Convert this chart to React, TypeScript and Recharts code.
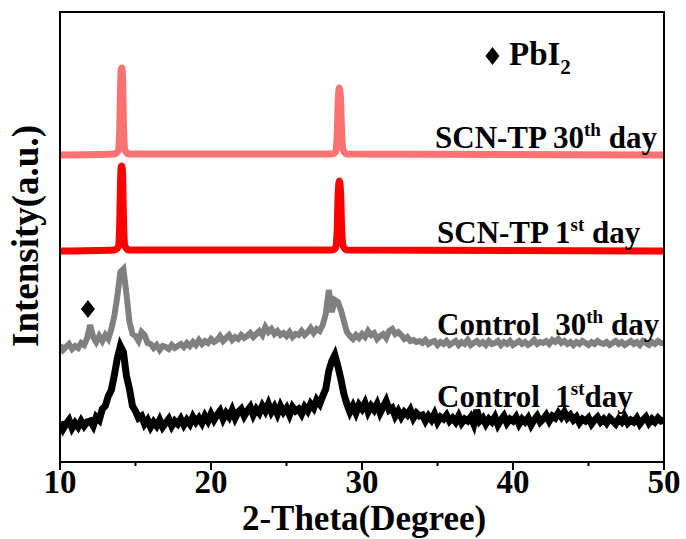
import { LineChart, Line, XAxis, YAxis, ReferenceDot } from "recharts";

// 2-theta grid for the noisy control scans (0.2 deg step)
const twoTheta = Array.from({ length: 201 }, (_, i) => 10 + i * 0.2);

const control30th = [
  117, 112, 115, 118, 113, 116, 114, 119, 117, 124,
  137, 125, 120, 126, 121, 127, 123, 133, 146, 166,
  190, 193, 168, 140, 128, 126, 121, 130, 127, 119,
  118, 114, 117, 112, 116, 115, 113, 117, 114, 116,
  118, 115, 119, 116, 120, 117, 122, 118, 121, 119,
  123, 120, 122, 126, 121, 124, 127, 122, 125, 123,
  127, 124, 126, 129, 125, 128, 131, 127, 135, 130,
  133, 128, 131, 127, 129, 126, 130, 125, 128, 127,
  131, 127, 130, 134, 129, 133, 131, 137, 148, 172,
  150, 162, 160, 152, 141, 130, 126, 123, 127, 124,
  128, 125, 131, 127, 129, 123, 126, 128, 124, 131,
  133, 128, 130, 127, 123, 125, 121, 122, 120, 121,
  119, 122, 118, 120, 121, 117, 120, 118, 121, 117,
  119, 121, 117, 120, 118, 122, 117, 119, 121, 118,
  120, 117, 121, 118, 119, 121, 117, 120, 118, 121,
  117, 119, 121, 118, 120, 117, 119, 122, 118, 120,
  119, 121, 118, 122, 120, 123, 119, 121, 118, 120,
  117, 120, 118, 121, 119, 117, 120, 118, 121, 119,
  118, 120, 117, 119, 121, 118, 120, 117, 119, 121,
  118, 120, 117, 121, 119, 117, 120, 118, 121, 119,
  119,
];

const control1st = [
  40, 33, 38, 42, 34, 39, 35, 41, 36, 40,
  41, 36, 45, 42, 53, 56, 66, 72, 87, 104,
  116, 110, 86, 73, 56, 51, 44, 46, 38, 42,
  35, 40, 36, 42, 35, 39, 43, 36, 41, 38,
  43, 37, 42, 38, 45, 40, 44, 39, 46, 41,
  48, 42, 47, 51, 43, 49, 45, 52, 44, 50,
  53, 46, 51, 55, 47, 53, 49, 56, 51, 58,
  50, 55, 48, 56, 50, 54, 47, 55, 51, 53,
  48, 55, 51, 58, 54, 62, 58, 66, 73, 91,
  101, 107, 96, 83, 68, 58, 50, 56, 49, 57,
  53, 59, 50, 56, 52, 58, 49, 55, 61, 52,
  54, 46, 51, 45, 50, 47, 52, 44, 49, 46,
  47, 41, 46, 42, 48, 40, 45, 43, 47, 41,
  44, 40, 46, 39, 43, 41, 45, 38, 52, 41,
  44, 38, 43, 40, 45, 37, 42, 46, 39, 43,
  41, 45, 38, 43, 40, 44, 37, 42, 46, 40,
  43, 47, 41, 46, 44, 49, 45, 50, 44, 47,
  42, 45, 39, 43, 41, 44, 38, 42, 45, 40,
  43, 39, 44, 41, 38, 43, 40, 45, 39, 42,
  40, 44, 38, 42, 45, 39, 43, 40, 44, 41,
  42,
];

// SCN-TP scans: flat baseline with two sharp reflections
const scnAngles = [10, 13.6, 13.85, 13.95, 14.0, 14.05, 14.1, 14.15, 14.2, 14.3, 14.55, 28.0, 28.25, 28.35, 28.42, 28.5, 28.58, 28.65, 28.75, 29.0, 50];
const scn30th = [307, 308, 311, 330, 370, 392, 394, 380, 340, 312, 308, 308, 310, 325, 360, 374, 362, 330, 312, 308, 307];
const scn1st = [211, 212, 215, 235, 275, 295, 296, 285, 245, 216, 212, 212, 214, 230, 268, 281, 270, 235, 216, 212, 211];

const xTicks = [10, 15, 20, 25, 30, 35, 40, 45, 50];

const ctrl1Data = twoTheta.map((t, i) => ({ t, v: control1st[i] }));
const ctrl30Data = twoTheta.map((t, i) => ({ t, v: control30th[i] }));
const scn1Data = scnAngles.map((t, i) => ({ t, v: scn1st[i] }));
const scn30Data = scnAngles.map((t, i) => ({ t, v: scn30th[i] }));

const font = "'Liberation Serif', 'Times New Roman', serif";

function XTick({ x, y, payload }: any) {
  const major = payload.value % 10 === 0;
  return (
    <g>
      <line x1={x} x2={x} y1={y} y2={y + (major ? 8 : 4)} stroke="#000" strokeWidth={2} />
      {major && (
        <text x={x} y={y + 31} textAnchor="middle" fontFamily={font} fontWeight="bold" fontSize={33} fill="#000">
          {payload.value}
        </text>
      )}
    </g>
  );
}

function Diamond({ cx, cy }: any) {
  return <polygon points={`${cx},${cy - 9} ${cx + 7},${cy} ${cx},${cy + 9} ${cx - 7},${cy}`} fill="#000" />;
}

const labelStyle = { fontFamily: font, fontWeight: "bold" as const, fontSize: 31, whiteSpace: "pre" as const };

export default function App() {
  return (
    <div style={{ position: "absolute", left: 0, top: 0, width: 686, height: 539, background: "#fff" }}>
      <LineChart width={686} height={539} margin={{ top: 12, right: 22, left: 0, bottom: 0 }}>
        <XAxis
          dataKey="t"
          type="number"
          domain={[10, 50]}
          ticks={xTicks}
          allowDataOverflow
          height={77}
          tickSize={0}
          tickMargin={0}
          tickLine={false}
          tick={<XTick />}
          axisLine={{ stroke: "#000", strokeWidth: 2 }}
        />
        <YAxis type="number" domain={[0, 450]} width={60} tick={false} tickLine={false} axisLine={{ stroke: "#000", strokeWidth: 2 }} />
        <Line data={ctrl1Data} dataKey="v" type="linear" stroke="#000000" strokeWidth={7} dot={false} isAnimationActive={false} />
        <Line data={ctrl30Data} dataKey="v" type="linear" stroke="#808080" strokeWidth={6} dot={false} isAnimationActive={false} />
        <Line data={scn1Data} dataKey="v" type="monotone" stroke="#ff0000" strokeWidth={7} dot={false} isAnimationActive={false} />
        <Line data={scn30Data} dataKey="v" type="monotone" stroke="#fa7272" strokeWidth={7} dot={false} isAnimationActive={false} />
        <ReferenceDot x={11.85} y={153} shape={<Diamond />} />
        <ReferenceDot x={38.64} y={406} shape={<Diamond />} />
      </LineChart>
      <svg width={686} height={539} style={{ position: "absolute", left: 0, top: 0, pointerEvents: "none" }}>
        <rect x={60} y={12} width={604} height={450} fill="none" stroke="#000" strokeWidth={2} />
        <text transform="translate(38,236) rotate(-90)" textAnchor="middle" fontFamily={font} fontWeight="bold" fontSize={37}>
          Intensity(a.u.)
        </text>
        <text x={364} y={530} textAnchor="middle" fontFamily={font} fontWeight="bold" fontSize={35}>
          2-Theta(Degree)
        </text>
        <text x={509} y={65} style={{ ...labelStyle, fontSize: 33 }}>
          PbI<tspan fontSize={21} dy={9}>2</tspan>
        </text>
        <text x={435} y={148} style={labelStyle}>
          SCN-TP 30<tspan fontSize={19} dy={-12}>th</tspan><tspan dy={12}> day</tspan>
        </text>
        <text x={437} y={243} style={labelStyle}>
          SCN-TP 1<tspan fontSize={19} dy={-12}>st</tspan><tspan dy={12}> day</tspan>
        </text>
        <text x={437} y={335} style={labelStyle}>
          Control  30<tspan fontSize={19} dy={-12}>th</tspan><tspan dy={12}> day</tspan>
        </text>
        <text x={437} y={407} style={labelStyle}>
          Control  1<tspan fontSize={19} dy={-12}>st</tspan><tspan dy={12}>day</tspan>
        </text>
      </svg>
    </div>
  );
}
